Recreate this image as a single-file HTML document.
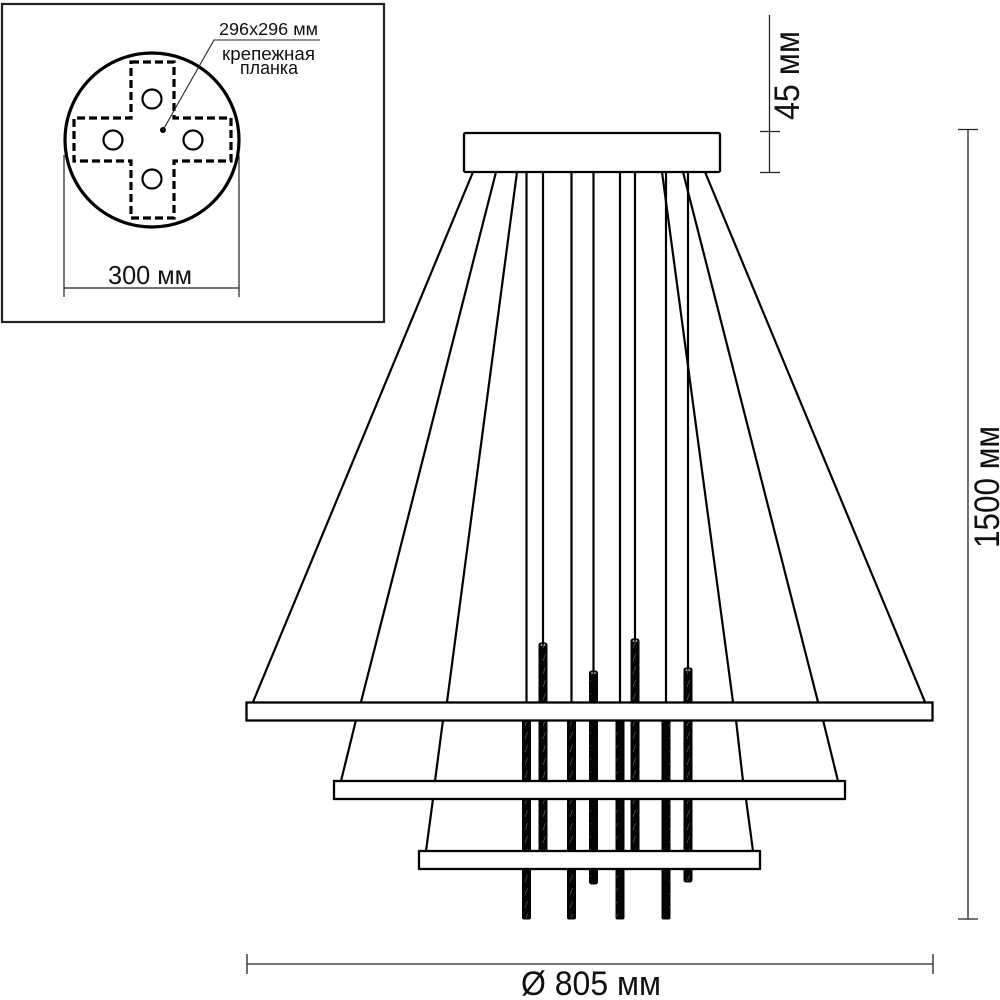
<!DOCTYPE html>
<html lang="ru">
<head>
<meta charset="utf-8">
<style>
html,body{margin:0;padding:0;background:#fff;width:1000px;height:1000px;overflow:hidden}
svg{display:block}
text{font-family:"Liberation Sans",sans-serif;fill:#111}
</style>
</head>
<body>
<svg width="1000" height="1000" viewBox="0 0 1000 1000" xmlns="http://www.w3.org/2000/svg">
<defs>
<pattern id="tw" width="9" height="13" patternUnits="userSpaceOnUse">
<rect width="9" height="13" fill="#050505"/>
<path d="M3 11L5.500 4" stroke="#666" stroke-width=".6" fill="none"/>
</pattern>
</defs>
<rect width="1000" height="1000" fill="#fff"/>

<!-- inset -->
<rect x="2" y="4" width="382" height="318" fill="#fff" stroke="#222" stroke-width="2.200"/>
<circle cx="152" cy="140" r="87" fill="none" stroke="#000" stroke-width="3.200"/>
<path d="M131 62H174V118H231V161H174V218H131V161H74V118H131Z" fill="none" stroke="#000" stroke-width="3.200" stroke-dasharray="8 4"/>
<g fill="none" stroke="#000" stroke-width="2.200">
<circle cx="152" cy="99" r="9.500"/>
<circle cx="113" cy="140" r="9.500"/>
<circle cx="193" cy="140" r="9.500"/>
<circle cx="152" cy="179" r="9.500"/>
</g>
<circle cx="163" cy="130" r="3" fill="#000"/>
<path d="M163 130L214 40H320" fill="none" stroke="#222" stroke-width="1.100"/>
<text x="219" y="35" font-size="17.500" textLength="99" lengthAdjust="spacingAndGlyphs">296x296 мм</text>
<text x="222" y="60" font-size="18" textLength="93" lengthAdjust="spacingAndGlyphs">крепежная</text>
<text x="240" y="74" font-size="18" textLength="58" lengthAdjust="spacingAndGlyphs">планка</text>
<path d="M64 155V297M239 155V297M64 288H239" fill="none" stroke="#222" stroke-width="1.200"/>
<text x="108" y="284" font-size="26" textLength="84" lengthAdjust="spacingAndGlyphs">300 мм</text>

<!-- vertical wires -->
<g stroke="#000" stroke-width="2.200" fill="none">
<path d="M526.500 172V702M571.500 172V702M620 172V702M666 172V702"/>
<path d="M543 172V643M593.500 172V671M635 172V639M688 172V668"/>
</g>

<!-- rods -->
<g fill="url(#tw)" stroke="#000" stroke-width="1">
<rect x="539" y="643" width="8" height="215" rx="2"/>
<rect x="589.500" y="671" width="8" height="213" rx="2"/>
<rect x="631" y="639" width="8" height="219" rx="2"/>
<rect x="684" y="668" width="8" height="214" rx="2"/>
<rect x="522.500" y="720" width="8" height="199" rx="1.500"/>
<rect x="567.500" y="720" width="8" height="199" rx="1.500"/>
<rect x="616" y="720" width="8" height="199" rx="1.500"/>
<rect x="662" y="720" width="8" height="199" rx="1.500"/>
</g>
<g fill="#ccc">
<circle cx="541.500" cy="645" r=".9"/><circle cx="544.500" cy="645" r=".9"/>
<circle cx="592" cy="673" r=".9"/><circle cx="595" cy="673" r=".9"/>
<circle cx="633.500" cy="641" r=".9"/><circle cx="636.500" cy="641" r=".9"/>
<circle cx="686.500" cy="670" r=".9"/><circle cx="689.500" cy="670" r=".9"/>
</g>

<!-- slanted wires -->
<g stroke="#000" stroke-width="2.200" fill="none">
<path d="M473 172L253 702"/>
<path d="M496 172L361 702"/>
<path d="M356 720L341 781"/>
<path d="M517 172L447 702"/>
<path d="M443 720L435 781"/>
<path d="M433 799L426 851"/>
<path d="M705 172L925 702"/>
<path d="M683 172L818 702"/>
<path d="M823 720L838 781"/>
<path d="M662 172L733 702"/>
<path d="M736 720L743 781"/>
<path d="M746 799L753 851"/>
</g>

<!-- rings and canopy -->
<g fill="#fff" stroke="#000" stroke-width="2.300">
<rect x="464" y="133" width="256" height="39" rx="1.500"/>
<rect x="246.500" y="702.500" width="686" height="18"/>
<rect x="334" y="781" width="511" height="18"/>
<rect x="419" y="851" width="341" height="18"/>
</g>

<!-- dimensions -->
<g stroke="#222" stroke-width="1.300" fill="none">
<path d="M769.500 15V173M760 131.500H780M760 172.500H780"/>
<path d="M968 130V919M958 129.500H978M958 919H978"/>
<path d="M247 964H933M247 954V974M933 954V974"/>
</g>
<text transform="translate(799 120) rotate(-90)" font-size="35" textLength="89" lengthAdjust="spacingAndGlyphs">45 мм</text>
<text transform="translate(999 548) rotate(-90)" font-size="35" textLength="122" lengthAdjust="spacingAndGlyphs">1500 мм</text>
<text x="521" y="995" font-size="34" textLength="140" lengthAdjust="spacingAndGlyphs">Ø 805 мм</text>
</svg>
</body>
</html>
